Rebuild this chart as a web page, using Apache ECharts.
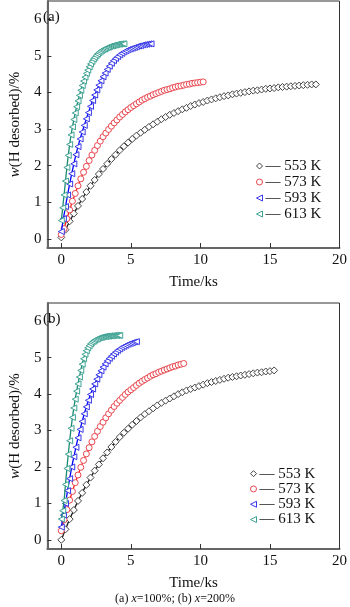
<!DOCTYPE html>
<html>
<head>
<meta charset="utf-8">
<script src="https://cdn.jsdelivr.net/npm/echarts@6/dist/echarts.min.js"></script>
<style>
  html, body { margin: 0; padding: 0; background: #fff; }
  #chart { width: 350px; height: 607px; }
</style>
</head>
<body>
<div id="chart"></div>
<script>
// tick labels
var xTicks = [0, 5, 10, 15, 20];
var yTicks = [0, 1, 2, 3, 4, 5, 6];
var temps = ['553 K', '573 K', '593 K', '613 K'];

// time step (ks) of each temperature's series
var steps = [0.3, 0.2, 0.15, 0.1];

// (a) x=100%
var a553 = [0.04, 0.25, 0.48, 0.69, 0.90, 1.09, 1.28, 1.45, 1.61, 1.77, 1.91, 2.05, 2.18, 2.30, 2.42, 2.53,
    2.63, 2.73, 2.82, 2.90, 2.98, 3.06, 3.13, 3.20, 3.27, 3.33, 3.39, 3.44, 3.49, 3.54, 3.58, 3.63,
    3.67, 3.71, 3.74, 3.78, 3.81, 3.84, 3.87, 3.90, 3.92, 3.95, 3.97, 3.99, 4.01, 4.03, 4.05, 4.06,
    4.08, 4.10, 4.11, 4.12, 4.14, 4.15, 4.16, 4.17, 4.18, 4.19, 4.20, 4.21, 4.22, 4.22];
var a573 = [0.12, 0.28, 0.55, 0.79, 1.03, 1.24, 1.45, 1.64, 1.82, 1.98, 2.14, 2.29, 2.42, 2.55, 2.67, 2.79,
    2.89, 2.99, 3.08, 3.17, 3.25, 3.33, 3.40, 3.47, 3.53, 3.59, 3.64, 3.69, 3.74, 3.79, 3.83, 3.87,
    3.90, 3.94, 3.97, 4.00, 4.03, 4.06, 4.08, 4.10, 4.13, 4.15, 4.17, 4.18, 4.20, 4.22, 4.23, 4.25,
    4.26, 4.27, 4.28, 4.29];
var a593 = [0.20, 0.55, 0.88, 1.20, 1.50, 1.78, 2.05, 2.30, 2.52, 2.73, 2.92, 3.10, 3.28, 3.45, 3.62, 3.78,
    3.93, 4.07, 4.20, 4.32, 4.43, 4.53, 4.63, 4.72, 4.80, 4.87, 4.93, 4.98, 5.03, 5.07, 5.11, 5.14,
    5.17, 5.19, 5.21, 5.23, 5.25, 5.27, 5.28, 5.30, 5.31, 5.32, 5.33, 5.33];
var a613 = [0.50, 0.85, 1.20, 1.58, 1.95, 2.28, 2.58, 2.84, 3.06, 3.26, 3.44, 3.61, 3.77, 3.92, 4.06, 4.19,
    4.31, 4.42, 4.52, 4.61, 4.70, 4.78, 4.85, 4.91, 4.96, 5.01, 5.05, 5.09, 5.12, 5.15, 5.17, 5.19,
    5.21, 5.23, 5.24, 5.26, 5.27, 5.28, 5.29, 5.30, 5.31, 5.32, 5.32, 5.33, 5.33, 5.33];

// (b) x=200%
var b553 = [0.00, 0.29, 0.57, 0.82, 1.07, 1.29, 1.51, 1.71, 1.90, 2.07, 2.24, 2.40, 2.55, 2.69, 2.82, 2.94,
    3.05, 3.16, 3.26, 3.36, 3.45, 3.53, 3.61, 3.69, 3.76, 3.82, 3.88, 3.94, 4.00, 4.05, 4.10, 4.14,
    4.18, 4.22, 4.26, 4.30, 4.33, 4.36, 4.39, 4.42, 4.45, 4.47, 4.49, 4.51, 4.53, 4.55, 4.57, 4.59,
    4.60, 4.62, 4.63, 4.65];
var b573 = [0.25, 0.55, 0.83, 1.09, 1.33, 1.57, 1.78, 1.99, 2.18, 2.36, 2.53, 2.69, 2.84, 2.98, 3.11, 3.23,
    3.35, 3.46, 3.56, 3.66, 3.75, 3.83, 3.91, 3.99, 4.06, 4.12, 4.18, 4.24, 4.30, 4.35, 4.40, 4.44,
    4.49, 4.53, 4.56, 4.60, 4.63, 4.66, 4.69, 4.72, 4.75, 4.77, 4.80, 4.82, 4.84];
var b593 = [0.35, 0.68, 1.00, 1.35, 1.68, 2.00, 2.28, 2.54, 2.80, 3.03, 3.25, 3.46, 3.65, 3.83, 3.99, 4.14,
    4.28, 4.41, 4.53, 4.64, 4.74, 4.83, 4.91, 4.98, 5.04, 5.10, 5.15, 5.20, 5.24, 5.28, 5.31, 5.34,
    5.37, 5.39, 5.41, 5.43, 5.44];
var b613 = [0.57, 0.80, 1.08, 1.52, 1.96, 2.35, 2.72, 3.06, 3.36, 3.62, 3.86, 4.08, 4.28, 4.47, 4.65, 4.82,
    4.97, 5.09, 5.19, 5.27, 5.33, 5.38, 5.42, 5.45, 5.48, 5.50, 5.52, 5.54, 5.55, 5.56, 5.57, 5.58,
    5.58, 5.59, 5.59, 5.60, 5.60, 5.60, 5.61, 5.61, 5.61, 5.61, 5.61];

var font = '"Liberation Serif", "Times New Roman", serif';
var triLeft = 'path://M0,5 L10,0 L10,10 Z';
var symbols = ['diamond', 'circle', triLeft, triLeft];
var markColors = ['#444444', '#e8474f', '#3a3ae8', '#3fa394'];
var lineColors = ['#1a1a1a', '#ff1a1a', '#0000ff', '#1a8a72'];
var symSizes = [7, 6, 6, 6];

function pts(w, dt) {
    return w.map(function (v, i) { return [+(i * dt).toFixed(2), v]; });
}

function makeSeries(sets, idx) {
    return sets.map(function (w, k) {
        return {
            name: temps[k],
            type: 'line',
            xAxisIndex: idx,
            yAxisIndex: idx,
            data: pts(w, steps[k]),
            symbol: symbols[k],
            symbolSize: symSizes[k],
            showAllSymbol: true,
            itemStyle: {color: '#fff', borderColor: markColors[k], borderWidth: 1},
            lineStyle: {color: lineColors[k], width: 1.3},
            z: 2 + k
        };
    });
}

function makeX(idx) {
    return {
        type: 'value', gridIndex: idx, min: -1, max: 20,
        name: 'Time/ks', nameLocation: 'middle', nameGap: 27,
        nameTextStyle: {fontFamily: font, fontSize: 15, color: '#111'},
        axisLine: {onZero: false, lineStyle: {color: '#666', width: 2}},
        axisTick: {inside: true, length: 5, customValues: xTicks, lineStyle: {color: '#333'}},
        axisLabel: {customValues: xTicks, margin: 5, fontFamily: font, fontSize: 15, color: '#111'},
        splitLine: {show: false}
    };
}

function makeY(idx) {
    return {
        type: 'value', gridIndex: idx, min: -0.25, max: 6.5,
        name: '{i|w}(H desorbed)/%', nameLocation: 'middle', nameGap: 23,
        nameTextStyle: {fontFamily: font, fontSize: 15, color: '#111',
            rich: {i: {fontStyle: 'italic', fontFamily: font, fontSize: 15, color: '#111'}}},
        axisLine: {onZero: false, lineStyle: {color: '#666', width: 2}},
        axisTick: {inside: true, length: 4, customValues: yTicks, lineStyle: {color: '#333'}},
        axisLabel: {customValues: yTicks, margin: 6, fontFamily: font, fontSize: 15, color: '#111'},
        splitLine: {show: false}
    };
}

function makeLegend(left, top, rowH) {
    return {
        orient: 'vertical', left: left, top: top,
        itemWidth: 6, itemHeight: 6, itemGap: 0,
        formatter: function (n) { return '\u2014 ' + n; },
        textStyle: {fontFamily: font, fontSize: 15, color: '#111', lineHeight: rowH, padding: [0, 0, 0, -2]},
        data: temps.map(function (n, k) {
            return {name: n, icon: symbols[k],
                itemStyle: {color: '#fff', borderColor: markColors[k], borderWidth: 1}};
        })
    };
}

var myChart = echarts.init(document.getElementById('chart'));
myChart.setOption({
    animation: false,
    backgroundColor: '#fff',
    title: [
        {text: '(a)', left: 38, top: 5, textStyle: {fontFamily: font, fontSize: 15, fontWeight: 'normal', color: '#111'}},
        {text: '(b)', left: 38, top: 307, textStyle: {fontFamily: font, fontSize: 15, fontWeight: 'normal', color: '#111'}},
        {
            text: '(a) {i|x}=100%; (b) {i|x}=200%', left: 'center', top: 588,
            textStyle: {fontFamily: font, fontSize: 12, fontWeight: 'normal', color: '#111',
                rich: {i: {fontStyle: 'italic', fontFamily: font, fontSize: 12, color: '#111'}}}
        }
    ],
    grid: [
        {left: 36, top: 1, width: 306, height: 247, show: true, borderColor: '#333', borderWidth: 1},
        {left: 36, top: 303, width: 306, height: 246, show: true, borderColor: '#333', borderWidth: 1}
    ],
    legend: [makeLegend(251, 153, 16), makeLegend(245, 461, 15.3)],
    xAxis: [makeX(0), makeX(1)],
    yAxis: [makeY(0), makeY(1)],
    series: makeSeries([a553, a573, a593, a613], 0).concat(makeSeries([b553, b573, b593, b613], 1))
});
</script>
</body>
</html>
